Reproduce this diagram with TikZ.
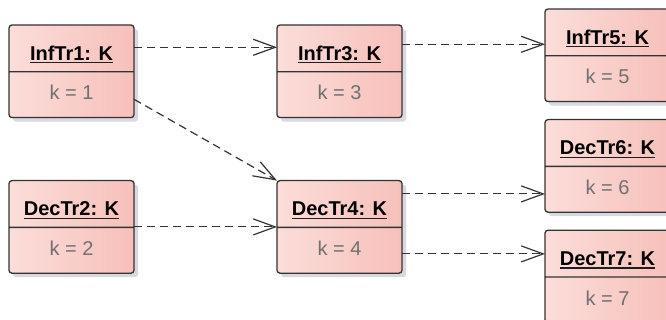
\documentclass[tikz,border=0pt]{standalone}
\usepackage{fontspec}
\setmainfont{Liberation Sans}
\usetikzlibrary{arrows.meta, positioning, shapes.multipart, shadows}

\definecolor{objleft}{RGB}{247,189,184}
\definecolor{objmid}{RGB}{252,223,219}
\definecolor{objright}{RGB}{244,177,171}
\definecolor{objline}{RGB}{51,51,51}
\definecolor{objshadow}{RGB}{214,217,221}
\definecolor{attrgray}{RGB}{112,112,112}
\definecolor{titleblack}{RGB}{30,30,30}
\pgfdeclarehorizontalshading{objshade}{100bp}{color(0bp)=(objleft); color(22bp)=(objmid); color(100bp)=(objright)}

\newsavebox{\titlebox}
\newcommand{\objtitle}[1]{\rule[-11pt]{0pt}{45.5pt}\sbox{\titlebox}{\textbf{#1}}\textcolor{titleblack}{\rlap{\rule[-3.2pt]{\wd\titlebox}{1.4pt}}\usebox{\titlebox}}}
\newcommand{\objattr}[1]{\rule[-17pt]{0pt}{44.5pt}\textcolor{attrgray}{#1}}

\begin{document}
\begin{tikzpicture}[
						x=1pt, y=-1pt,
						obj/.style = {rectangle split, rectangle split parts=2, draw=objline, line width=1.3pt,
							rounded corners=3pt, shade, shading=objshade, minimum width=125pt,
							inner xsep=4pt, inner ysep=0pt, outer sep=0pt, font=\fontsize{20}{24}\selectfont,
							drop shadow={shadow xshift=4pt, shadow yshift=-4pt, fill=objshadow, opacity=1}},
						dep/.style = {draw=objline, line width=1.2pt, dash pattern=on 8pt off 5pt,
							-{Straight Barb[length=22pt,width=16pt]}},
					]
\useasboundingbox (0,0) rectangle (666,320);

\node[obj, anchor=north west] (inf1) at (9,25) {\objtitle{InfTr1: K}\nodepart{two}\objattr{k = 1}};
\node[obj] (inf3) [right=143pt of inf1] {\objtitle{InfTr3: K}\nodepart{two}\objattr{k = 3}};
\node[obj, anchor=north west] (inf5) at (545,9) {\objtitle{InfTr5: K}\nodepart{two}\objattr{k = 5}};
\node[obj] (dec6) [below=18pt of inf5] {\objtitle{DecTr6: K}\nodepart{two}\objattr{k = 6}};
\node[obj] (dec7) [below=18pt of dec6] {\objtitle{DecTr7: K}\nodepart{two}\objattr{k = 7}};
\node[obj] (dec2) [below=63pt of inf1] {\objtitle{DecTr2: K}\nodepart{two}\objattr{k = 2}};
\node[obj] (dec4) [right=143pt of dec2] {\objtitle{DecTr4: K}\nodepart{two}\objattr{k = 4}};

\draw[dep] ([yshift=24pt]inf1.east) -- ([yshift=24pt]inf1.east -| inf3.west);
\draw[dep] ([yshift=27pt]inf3.east) -- ([yshift=27pt]inf3.east -| inf5.west);
\draw[dep] ([yshift=-28pt]inf1.east) -- (dec4.north west);
\draw[dep] (dec2.east) -- (dec4.west);
\draw[dep] ([yshift=33pt]dec4.east) -- ([yshift=33pt]dec4.east -| dec6.west);
\draw[dep] ([yshift=-27pt]dec4.east) -- ([yshift=-27pt]dec4.east -| dec7.west);

\end{tikzpicture}
\end{document}
